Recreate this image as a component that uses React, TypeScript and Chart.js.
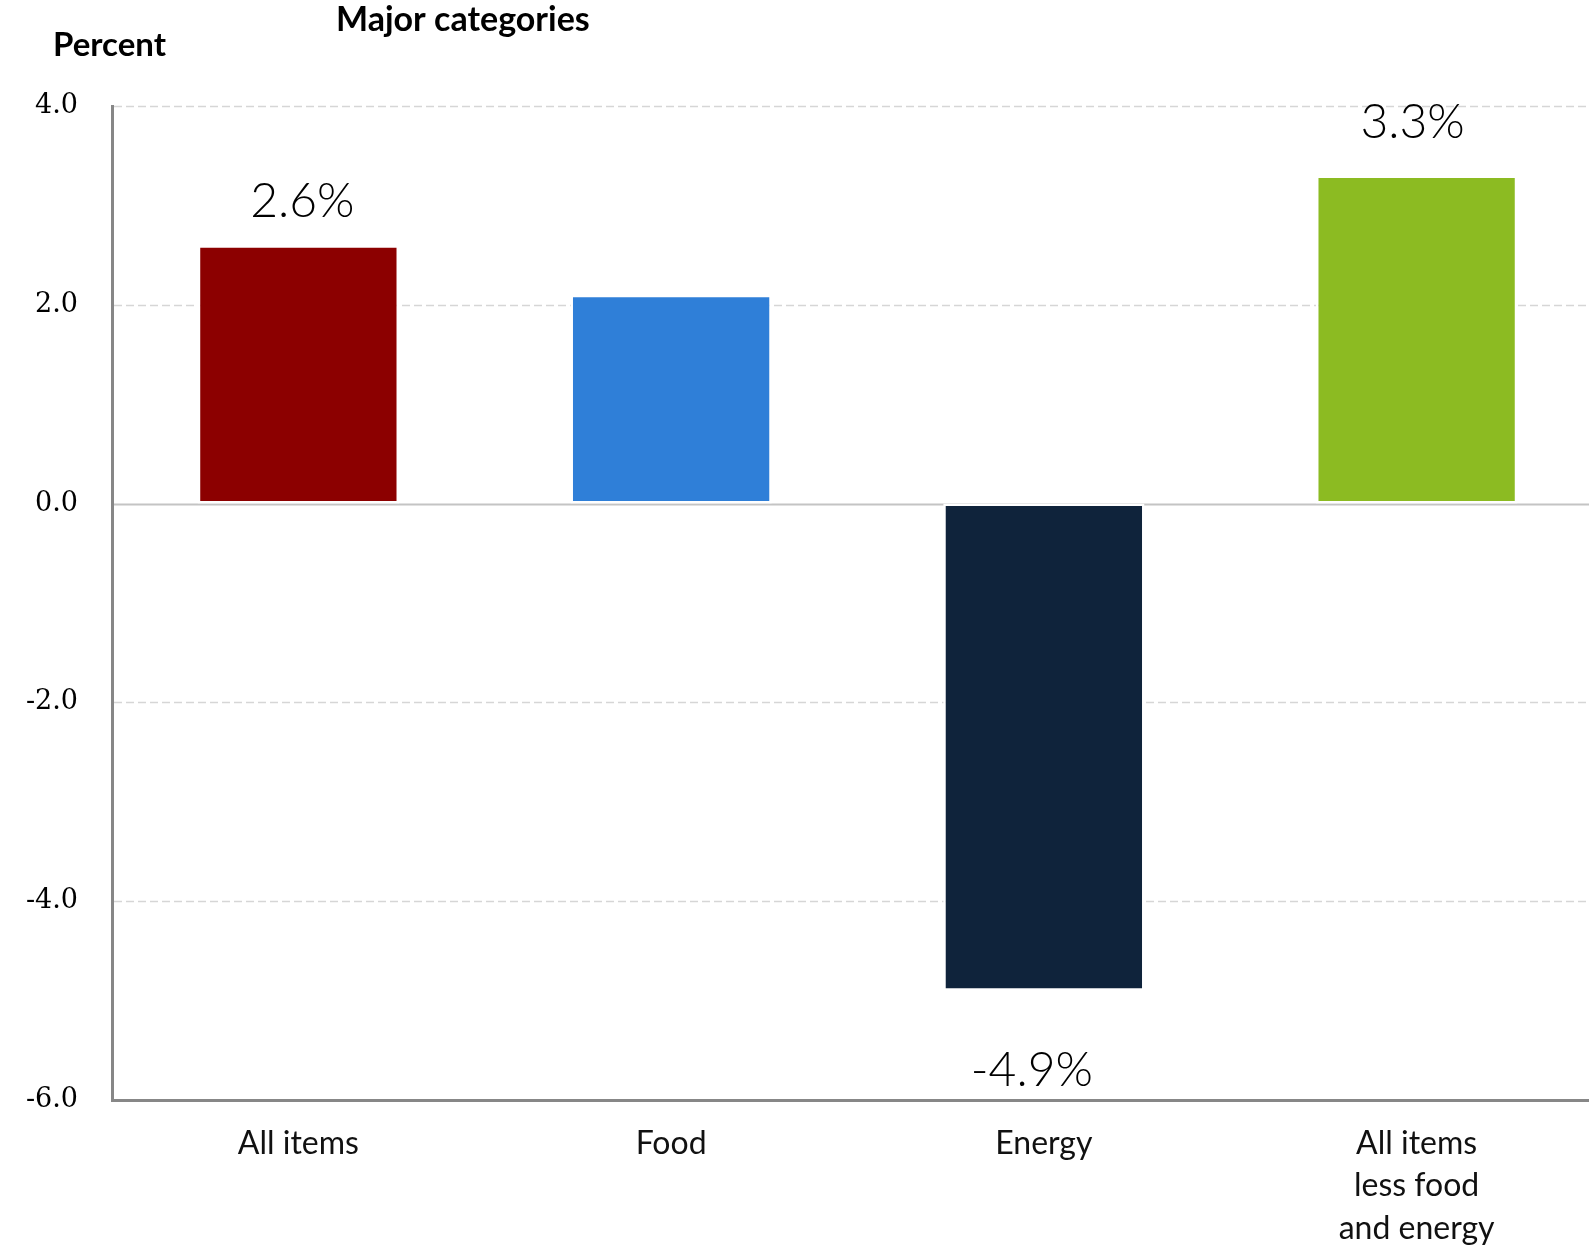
import React, { useEffect, useRef } from 'react';
import { Chart, registerables } from 'chart.js';

Chart.register(...registerables);

// ---- data ----
const categories: string[][] = [['All items'], ['Food'], ['Energy'], ['All items', 'less food', 'and energy']];
const values: number[] = [2.6, 2.1, -4.9, 3.3];
const barColors: string[] = ['#8C0000', '#2F7FD8', '#0F233B', '#8CBB22'];
const showValueLabel: boolean[] = [true, false, true, true];
const yTicks: number[] = [-6, -4, -2, 0, 2, 4];
const yAxisTitle = 'Percent';
const chartTitle = 'Major categories';

// ---- styles ----
const labelOffsets = [
  { dx: 4, dy: -44 },
  { dx: 0, dy: -44 },
  { dx: -12, dy: 80 },
  { dx: -4, dy: -53 },
];

const CANVAS_W = 1603;
const CANVAS_H = 1247;

const gridPlugin = {
  id: 'customGrid',
  beforeDatasetsDraw(chart: any) {
    const { ctx, chartArea } = chart;
    const y = chart.scales.y;
    ctx.save();
    yTicks.forEach((v) => {
      if (v === yTicks[0]) return;
      const py = Math.round(y.getPixelForValue(v)) + 0.5;
      ctx.beginPath();
      if (v === 0) {
        ctx.setLineDash([]);
        ctx.strokeStyle = '#c4c4c4';
        ctx.lineWidth = 2;
      } else {
        ctx.setLineDash([8, 4]);
        ctx.strokeStyle = '#d6d6d6';
        ctx.lineWidth = 1.5;
      }
      ctx.moveTo(chartArea.left + 2, py);
      ctx.lineTo(chart.width, py);
      ctx.stroke();
    });
    ctx.restore();
  },
};

const labelPlugin = {
  id: 'valueLabels',
  afterDatasetsDraw(chart: any) {
    const { ctx } = chart;
    const meta = chart.getDatasetMeta(0);
    ctx.save();
    ctx.font = '300 48px Lato, "Noto Sans", sans-serif';
    ctx.fillStyle = '#000';
    ctx.textAlign = 'center';
    ctx.textBaseline = 'middle';
    meta.data.forEach((el: any, i: number) => {
      if (!showValueLabel[i]) return;
      const o = labelOffsets[i];
      ctx.fillText(`${values[i].toFixed(1)}%`, el.x + o.dx, el.y + o.dy);
    });
    ctx.restore();
  },
  afterDraw(chart: any) {
    const { ctx } = chart;
    ctx.save();
    ctx.fillStyle = '#000';
    ctx.textAlign = 'left';
    ctx.textBaseline = 'alphabetic';
    ctx.font = 'bold 33px Lato, "Noto Sans", sans-serif';
    ctx.fillText(yAxisTitle, 53, 56);
    ctx.font = 'bold 34px Lato, "Noto Sans", sans-serif';
    ctx.fillText(chartTitle, 336, 31);
    ctx.restore();
  },
};

export default function App() {
  const ref = useRef<HTMLCanvasElement | null>(null);

  useEffect(() => {
    document.body.style.overflow = 'hidden';
    const canvas = ref.current;
    if (!canvas) return;
    const chart = new Chart(canvas, {
      type: 'bar',
      data: {
        labels: categories,
        datasets: [
          {
            data: values,
            backgroundColor: barColors,
            borderColor: '#ffffff',
            borderWidth: 2.5,
            borderSkipped: false,
            categoryPercentage: 1,
            barPercentage: 0.54,
          },
        ],
      },
      options: {
        responsive: false,
        animation: false,
        devicePixelRatio: 1,
        layout: { padding: { top: 106, left: 0, right: 0, bottom: 0 } },
        plugins: {
          legend: { display: false },
          tooltip: { enabled: false },
          title: { display: false },
        },
        scales: {
          x: {
            grid: { display: false, drawTicks: false },
            border: { display: true, color: '#878787', width: 3 },
            ticks: {
              color: '#111',
              font: { family: 'Lato, "Noto Sans", sans-serif', size: 32, lineHeight: 1.33 },
              padding: 22,
              maxRotation: 0,
              autoSkip: false,
            },
            afterFit(scale: any) {
              scale.height = 147;
            },
          },
          y: {
            min: -6,
            max: 4,
            grid: { display: false, drawTicks: false },
            border: { display: true, color: '#878787', width: 3 },
            afterBuildTicks(scale: any) {
              scale.ticks = yTicks.map((v) => ({ value: v }));
            },
            ticks: {
              color: '#000',
              font: { family: '"DejaVu Serif", serif', size: 27 },
              padding: 34,
              callback: (v: any) => Number(v).toFixed(1),
            },
            afterFit(scale: any) {
              scale.width = 112;
            },
          },
        },
      },
      plugins: [gridPlugin, labelPlugin],
    });
    return () => chart.destroy();
  }, []);

  return (
    <div style={{ position: 'absolute', left: 0, top: 0, width: 1589, height: 1247, overflow: 'hidden', background: '#fff' }}>
      <canvas ref={ref} width={CANVAS_W} height={CANVAS_H} style={{ display: 'block', width: CANVAS_W, height: CANVAS_H }} />
    </div>
  );
}
